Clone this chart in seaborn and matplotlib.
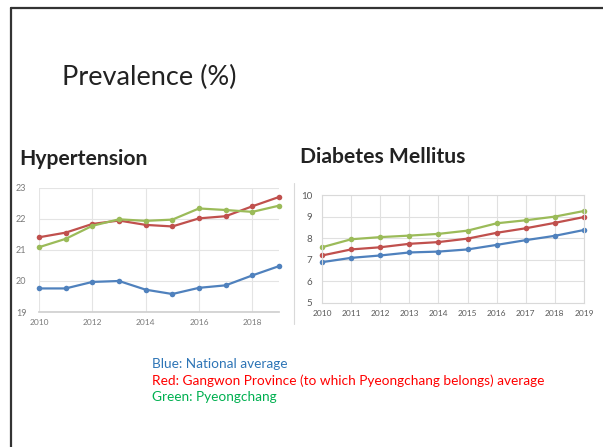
import numpy as np
import pandas as pd
import matplotlib
matplotlib.use("Agg")
import matplotlib.pyplot as plt
import seaborn as sns
from matplotlib.lines import Line2D

# Data
years = list(range(2010, 2020))
htn_national = [19.76, 19.76, 19.97, 20.00, 19.72, 19.58, 19.78, 19.86, 20.18, 20.48]
htn_gangwon = [21.41, 21.56, 21.84, 21.95, 21.81, 21.76, 22.02, 22.09, 22.41, 22.71]
htn_pyeong = [21.09, 21.36, 21.78, 21.99, 21.94, 21.98, 22.34, 22.29, 22.23, 22.43]
dm_national = [6.89, 7.09, 7.20, 7.34, 7.38, 7.48, 7.69, 7.91, 8.11, 8.38]
dm_gangwon = [7.20, 7.48, 7.58, 7.74, 7.82, 7.98, 8.25, 8.46, 8.71, 8.98]
dm_pyeong = [7.58, 7.95, 8.05, 8.12, 8.20, 8.35, 8.69, 8.83, 9.00, 9.26]
series_names = ["National", "Gangwon", "Pyeongchang"]
line_colors = ["#4F81BD", "#C0504D", "#9BBB59"]
legend_lines = ["Blue: National average",
                "Red: Gangwon Province (to which Pyeongchang belongs) average",
                "Green: Pyeongchang"]
legend_colors = ["#2E75B6", "#FF0000", "#00B050"]

sns.set_theme(style="white")
plt.rcParams['font.family'] = ['Lato', 'DejaVu Sans']

htn = pd.DataFrame({"year": years * 3,
                    "value": htn_national + htn_gangwon + htn_pyeong,
                    "series": np.repeat(series_names, len(years))})
dm = pd.DataFrame({"year": years * 3,
                   "value": dm_national + dm_gangwon + dm_pyeong,
                   "series": np.repeat(series_names, len(years))})
palette = dict(zip(series_names, line_colors))

fig = plt.figure(figsize=(6.03, 4.47), dpi=100)

# slide frame
fig.add_artist(Line2D([11/603, 11/603], [0, 1 - 8/447], color="#333333", lw=1.6))
fig.add_artist(Line2D([11/603, 1], [1 - 8/447, 1 - 8/447], color="#333333", lw=1.6))
# separator before right chart
fig.add_artist(Line2D([294/603, 294/603], [1 - 324/447, 1 - 183/447], color="#d9d9d9", lw=0.8))

fig.text(62/603, 1 - 77/447, "Prevalence (%)", fontsize=19.5, color="#222222", va="center")
fig.text(19/603, 1 - 159/447, "Hypertension", fontsize=15.2, fontweight="bold", color="#222222", va="center")
fig.text(300/603, 1 - 157/447, "Diabetes Mellitus", fontsize=15.2, fontweight="bold", color="#222222", va="center")

# Hypertension
ax1 = fig.add_axes([39/603, 1 - 312/447, 240/603, 124/447])
sns.lineplot(data=htn, x="year", y="value", hue="series", palette=palette, marker="o",
             markersize=4, markeredgewidth=0, linewidth=1.6, ax=ax1, legend=False)
ax1.set_xlim(2010, 2019)
ax1.set_ylim(19, 23)
ax1.set_xticks([2010, 2012, 2014, 2016, 2018])
ax1.set_yticks([19, 20, 21, 22, 23])
ax1.grid(True, color="#e4e4e4", lw=0.8)
for s in ax1.spines.values():
    s.set_visible(False)
ax1.spines['bottom'].set_visible(True)
ax1.spines['bottom'].set_color("#d0d0d0")
ax1.tick_params(axis="x", labelsize=6, labelcolor="#7a7a7a", length=0, pad=5)
ax1.tick_params(axis="y", labelsize=6.5, labelcolor="#7a7a7a", length=0, pad=9)
ax1.set_xlabel("")
ax1.set_ylabel("")
for l in ax1.lines:
    l.set_clip_on(False)

# Diabetes
ax2 = fig.add_axes([322/603, 1 - 303/447, 262/603, 108/447])
sns.lineplot(data=dm, x="year", y="value", hue="series", palette=palette, marker="o",
             markersize=4, markeredgewidth=0, linewidth=1.6, ax=ax2, legend=False)
ax2.set_xlim(2010, 2019)
ax2.set_ylim(5, 10)
ax2.set_xticks(years)
ax2.set_yticks([5, 6, 7, 8, 9, 10])
ax2.grid(True, color="#e0e0e0", lw=0.8)
for s in ax2.spines.values():
    s.set_color("#d9d9d9")
    s.set_linewidth(0.8)
ax2.tick_params(axis="x", labelsize=6, labelcolor="#595959", length=0, pad=5)
ax2.tick_params(axis="y", labelsize=7, labelcolor="#595959", length=0, pad=7)
ax2.set_xlabel("")
ax2.set_ylabel("")
for l in ax2.lines:
    l.set_clip_on(False)

for i, (txt, col) in enumerate(zip(legend_lines, legend_colors)):
    fig.text(152/603, 1 - (364 + 16.5 * i)/447, txt, fontsize=9.8, color=col, va="center")

fig.savefig("out.png", dpi=100)
